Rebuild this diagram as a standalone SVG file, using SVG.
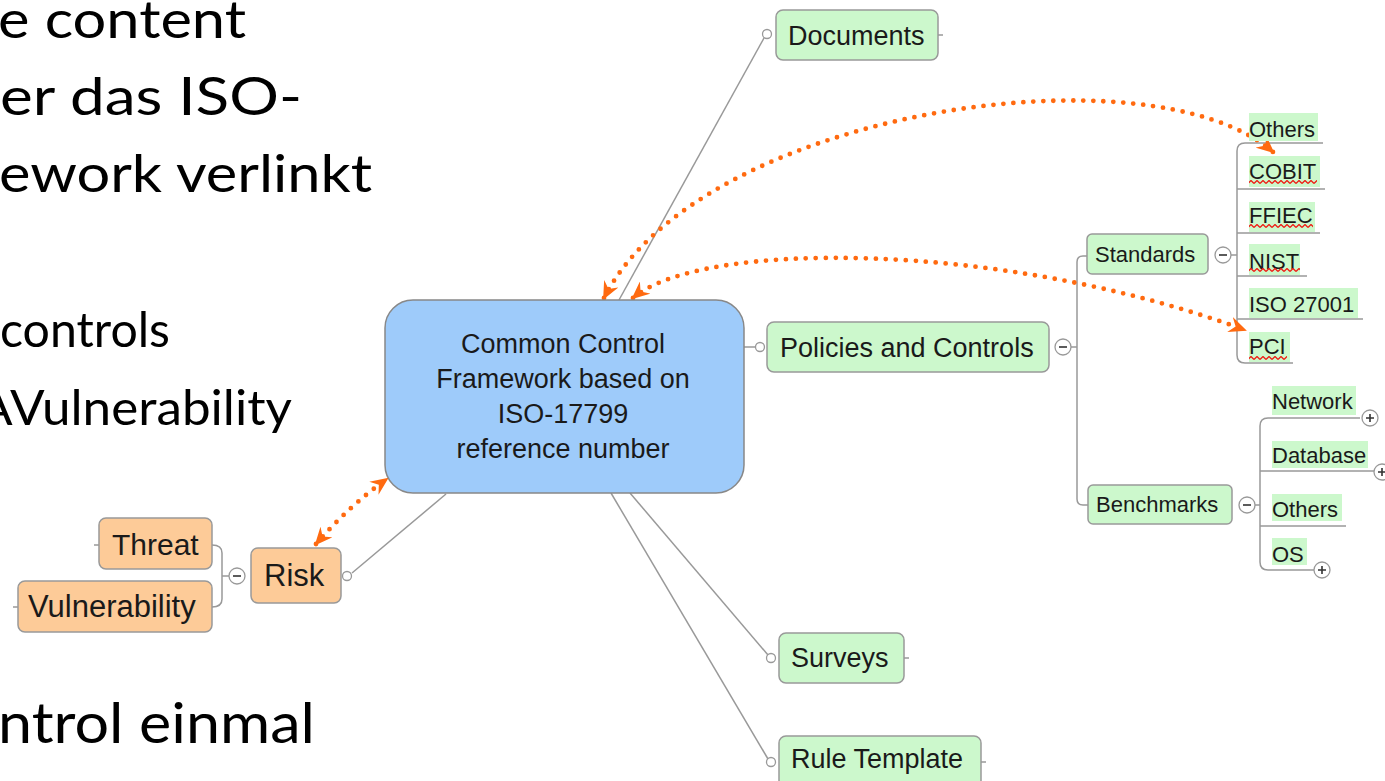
<svg xmlns="http://www.w3.org/2000/svg" width="1385" height="781" viewBox="0 0 1385 781">
<style>
.big{font-family:Lato,"Open Sans",sans-serif;fill:#000;}
.t{font-family:"Liberation Sans",Arial,sans-serif;fill:#1a1a1a;}
.g{fill:#ccf8cc;stroke:#999;stroke-width:1.5;}
.o{fill:#fdcb98;stroke:#999;stroke-width:1.5;}
.b{fill:#9ecbfa;stroke:#888;stroke-width:1.5;}
.hl{fill:#ccf8cc;}
.ln{fill:none;stroke:#999;stroke-width:1.5;}
.cc{fill:#fff;stroke:#999;stroke-width:1.3;}
.sg{stroke:#333;stroke-width:1.6;}
.dot{fill:none;stroke:#ff6a10;stroke-width:4.8;stroke-linecap:round;stroke-dasharray:0 10;}
</style>
<defs>
<marker id="ah" viewBox="0 0 18 16" refX="16" refY="8" markerWidth="18" markerHeight="16" markerUnits="userSpaceOnUse" orient="auto-start-reverse">
<path d="M0,0 L18,8 L0,16 L6,8 Z" fill="#ff6a10"/>
</marker>
<pattern id="wave" patternUnits="userSpaceOnUse" width="6" height="4">
<path d="M0,3.5 L3,0.5 L6,3.5" fill="none" stroke="#ee1c14" stroke-width="1.3"/>
</pattern>
</defs>
<rect width="1385" height="781" fill="#fff"/>

<g id="slide-text">
<text class="big" x="-2" y="38" font-size="52" textLength="248" lengthAdjust="spacingAndGlyphs">e content</text>
<text class="big" x="0" y="115" font-size="52" textLength="302" lengthAdjust="spacingAndGlyphs">er das ISO-</text>
<text class="big" x="-1" y="192" font-size="52" textLength="373" lengthAdjust="spacingAndGlyphs">ework verlinkt</text>
<text class="big" x="0" y="347" font-size="48" textLength="170" lengthAdjust="spacingAndGlyphs">controls</text>
<text class="big" x="-22" y="425" font-size="48" textLength="314" lengthAdjust="spacingAndGlyphs">AVulnerability</text>
<text class="big" x="-2" y="743" font-size="56" textLength="317" lengthAdjust="spacingAndGlyphs">ntrol einmal</text>
</g>

<g id="connectors">
<line class="ln" x1="619" y1="300" x2="764" y2="38"/>
<line class="ln" x1="744" y1="347" x2="755" y2="347"/>
<line class="ln" x1="630" y1="493" x2="768" y2="655"/>
<line class="ln" x1="611" y1="493" x2="768" y2="759"/>
<line class="ln" x1="446" y1="494" x2="352" y2="573"/>
<line class="ln" x1="938" y1="35" x2="943" y2="35"/>
<line class="ln" x1="904" y1="658" x2="909" y2="658"/>
<line class="ln" x1="981" y1="762" x2="986" y2="762"/>
<line class="ln" x1="94" y1="545" x2="99" y2="545"/>
<line class="ln" x1="13" y1="607" x2="18" y2="607"/>
<path class="ln" d="M212,545 Q222,545 222,553 V599 Q222,607 212,607 M222,576 H229"/>
<path class="ln" d="M1071,347 H1077 M1087,256 H1083 Q1077,256 1077,262 V499 Q1077,505 1083,505 H1088"/>
<path class="ln" d="M1323,143 H1245 Q1237,143 1237,151 V355 Q1237,363 1245,363 H1293 M1237,189 H1325 M1237,233 H1320 M1237,276 H1307 M1237,319 H1363 M1231,255 H1237"/>
<path class="ln" d="M1360,418 H1268 Q1260,418 1260,426 V562 Q1260,570 1268,570 H1314 M1260,471 H1374 M1260,526 H1346 M1255,505 H1260"/>
<path class="dot" d="M604,298 C700,110 1150,45 1273,152" marker-start="url(#ah)" marker-end="url(#ah)"/>
<path class="dot" d="M633,298 C700,240 1000,240 1245,330" marker-start="url(#ah)" marker-end="url(#ah)"/>
<path class="dot" d="M316,544 Q350,505 387,479" marker-start="url(#ah)" marker-end="url(#ah)"/>
</g>

<g id="center">
<rect class="b" x="385" y="300" width="359" height="193" rx="28"/>
<text class="t" x="563" y="353" font-size="27" text-anchor="middle">Common Control</text>
<text class="t" x="563" y="388" font-size="27" text-anchor="middle">Framework based on</text>
<text class="t" x="563" y="423" font-size="27" text-anchor="middle">ISO-17799</text>
<text class="t" x="563" y="458" font-size="27" text-anchor="middle">reference number</text>
</g>

<g id="documents">
<circle class="cc" cx="767" cy="34" r="4.5"/>
<rect class="g" x="776" y="10" width="162" height="50" rx="7"/>
<text class="t" x="788" y="45" font-size="27">Documents</text>
</g>

<g id="policies">
<circle class="cc" cx="760" cy="347" r="4.5"/>
<rect class="g" x="767" y="322" width="282" height="50" rx="7"/>
<text class="t" x="780" y="357" font-size="27">Policies and Controls</text>
<circle class="cc" cx="1063" cy="347" r="8"/>
<line class="sg" x1="1059" y1="347" x2="1067" y2="347"/>
</g>

<g id="surveys">
<circle class="cc" cx="771" cy="658" r="4.5"/>
<rect class="g" x="779" y="633" width="125" height="50" rx="7"/>
<text class="t" x="791" y="667" font-size="27">Surveys</text>
</g>

<g id="rule-template">
<circle class="cc" cx="771" cy="762" r="4.5"/>
<rect class="g" x="779" y="736" width="202" height="52" rx="7"/>
<text class="t" x="791" y="768" font-size="27">Rule Template</text>
</g>

<g id="risk">
<circle class="cc" cx="347" cy="576" r="4.5"/>
<rect class="o" x="251" y="548" width="90" height="55" rx="7"/>
<text class="t" x="264" y="586" font-size="31">Risk</text>
<circle class="cc" cx="237" cy="576" r="8"/>
<line class="sg" x1="233" y1="576" x2="241" y2="576"/>
</g>

<g id="threat">
<rect class="o" x="99" y="518" width="113" height="51" rx="7"/>
<text class="t" x="112" y="555" font-size="30">Threat</text>
</g>

<g id="vulnerability">
<rect class="o" x="18" y="581" width="194" height="51" rx="7"/>
<text class="t" x="28" y="617" font-size="31">Vulnerability</text>
</g>

<g id="standards">
<rect class="g" x="1087" y="234" width="121" height="40" rx="5"/>
<text class="t" x="1095" y="262" font-size="22">Standards</text>
<circle class="cc" cx="1223" cy="255" r="8"/>
<line class="sg" x1="1219" y1="255" x2="1227" y2="255"/>
</g>

<g id="benchmarks">
<rect class="g" x="1088" y="485" width="144" height="39" rx="5"/>
<text class="t" x="1096" y="512" font-size="22">Benchmarks</text>
<circle class="cc" cx="1247" cy="505" r="8"/>
<line class="sg" x1="1243" y1="505" x2="1251" y2="505"/>
</g>

<g id="std-others">
<rect class="hl" x="1249" y="113" width="69" height="28"/>
<text class="t" x="1249" y="137" font-size="22">Others</text>
</g>
<g id="std-cobit">
<rect class="hl" x="1249" y="156" width="71" height="31"/>
<text class="t" x="1249" y="179" font-size="22">COBIT</text>
<rect x="1249" y="180" width="68" height="4" fill="url(#wave)"/>
</g>
<g id="std-ffiec">
<rect class="hl" x="1249" y="202" width="66" height="30"/>
<text class="t" x="1249" y="223" font-size="22">FFIEC</text>
<rect x="1249" y="224" width="64" height="4" fill="url(#wave)"/>
</g>
<g id="std-nist">
<rect class="hl" x="1249" y="244" width="51" height="31"/>
<text class="t" x="1249" y="269" font-size="22">NIST</text>
<rect x="1249" y="268" width="51" height="4" fill="url(#wave)"/>
</g>
<g id="std-iso27001">
<rect class="hl" x="1249" y="288" width="109" height="30"/>
<text class="t" x="1249" y="312" font-size="22">ISO 27001</text>
</g>
<g id="std-pci">
<rect class="hl" x="1249" y="332" width="41" height="30"/>
<text class="t" x="1249" y="354" font-size="22">PCI</text>
<rect x="1249" y="356" width="38" height="4" fill="url(#wave)"/>
</g>

<g id="bm-network">
<rect class="hl" x="1272" y="386" width="84" height="29"/>
<text class="t" x="1272" y="409" font-size="22">Network</text>
<circle class="cc" cx="1370" cy="418" r="8"/>
<path class="sg" d="M1366,418 H1374 M1370,414 V422"/>
</g>
<g id="bm-database">
<rect class="hl" x="1272" y="441" width="96" height="27"/>
<text class="t" x="1272" y="463" font-size="22">Database</text>
<circle class="cc" cx="1382" cy="472" r="8"/>
<path class="sg" d="M1378,472 H1386 M1382,468 V476"/>
</g>
<g id="bm-others">
<rect class="hl" x="1272" y="494" width="70" height="27"/>
<text class="t" x="1272" y="517" font-size="22">Others</text>
</g>
<g id="bm-os">
<rect class="hl" x="1272" y="538" width="35" height="27"/>
<text class="t" x="1272" y="562" font-size="22">OS</text>
<circle class="cc" cx="1322" cy="570" r="8"/>
<path class="sg" d="M1318,570 H1326 M1322,566 V574"/>
</g>
</svg>
